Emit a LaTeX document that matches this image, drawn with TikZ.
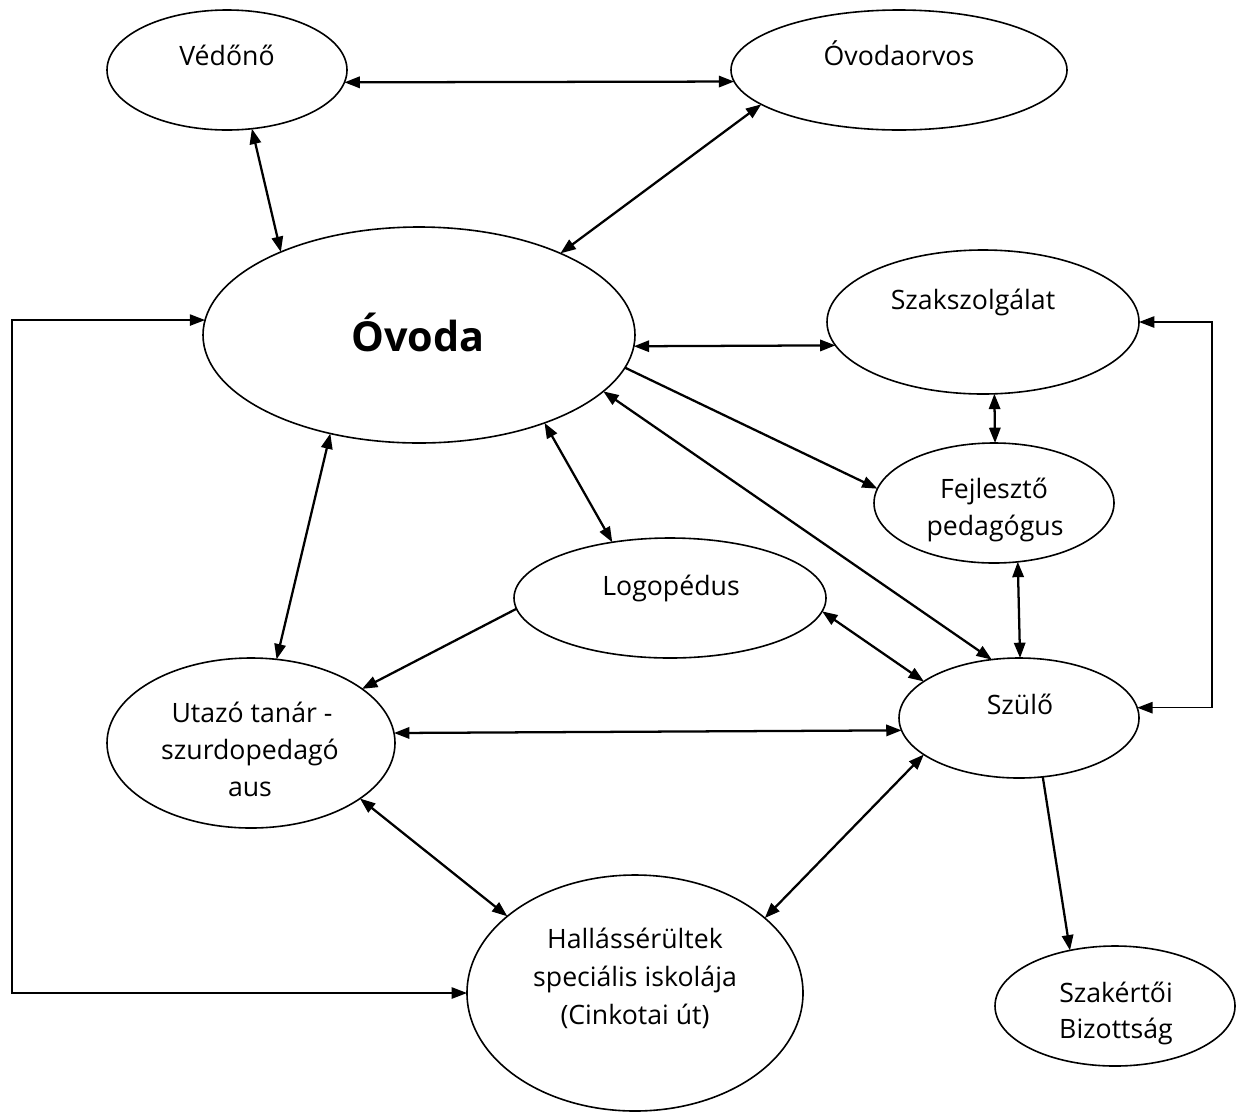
\documentclass[tikz,border=0pt]{standalone}
\usepackage{fontspec}
\setmainfont{Open Sans}
\usetikzlibrary{arrows.meta,shapes.geometric}
\tikzset{
  ell/.style={ellipse, draw, line width=1.2pt, inner sep=0pt, outer sep=0pt, fill=white},
  txt/.style={anchor=base, inner sep=0pt, font=\fontsize{20}{27}\selectfont},
  big/.style={anchor=base, inner sep=0pt, font=\fontsize{31}{36}\selectfont\bfseries},
  one/.style={-{Triangle[length=11.5pt,width=8.5pt]}, line width=1.7pt},
  two/.style={{Triangle[length=11.5pt,width=8.5pt]}-{Triangle[length=11.5pt,width=8.5pt]}, line width=1.7pt},
  loop/.style={{Triangle[length=11.5pt,width=8.5pt]}-{Triangle[length=11.5pt,width=8.5pt]}, line width=1.2pt}
}
\begin{document}
\begin{tikzpicture}[x=0.75pt,y=-0.75pt]
\useasboundingbox[fill=white] (0,0) rectangle (1244,1111);
% ellipses
\node[ell, minimum width=180pt, minimum height=90pt] (V) at (227,70) {};
\node[ell, minimum width=252pt, minimum height=90pt] (O) at (899,70) {};
\node[ell, minimum width=324pt, minimum height=162pt] (K) at (419,335) {};
\node[ell, minimum width=234pt, minimum height=108pt] (S) at (983,322) {};
\node[ell, minimum width=180pt, minimum height=90pt] (F) at (994,503) {};
\node[ell, minimum width=234pt, minimum height=90pt] (L) at (670,598) {};
\node[ell, minimum width=216pt, minimum height=127.5pt] (U) at (251,743) {};
\node[ell, minimum width=180pt, minimum height=90pt] (P) at (1019,718) {};
\node[ell, minimum width=252pt, minimum height=177pt] (H) at (635,993) {};
\node[ell, minimum width=180pt, minimum height=90pt] (B) at (1115,1006) {};
% texts
\node[txt] (tV) at (227,65) {Védőnő};
\node[txt] (tO) at (899,65) {Óvodaorvos};
\node[big] (tK) at (418,351) {Óvoda};
\node[txt] (tS) at (973,309) {Szakszolgálat};
\node[txt] (tF1) at (994,498) {Fejlesztő};
\node[txt] (tF2) at (995,535) {pedagógus};
\node[txt] (tL) at (671,595) {Logopédus};
\node[txt] (tU1) at (252,722) {Utazó tanár -};
\node[txt] (tU2) at (250,759) {szurdopedagó};
\node[txt] (tU3) at (250,796) {aus};
\node[txt] (tP) at (1020,714) {Szülő};
\node[txt] (tH1) at (635,948) {Hallássérültek};
\node[txt] (tH2) at (635,986) {speciális iskolája};
\node[txt] (tH3) at (635,1024) {(Cinkotai út)};
\node[txt] (tB1) at (1116,1002) {Szakértői};
\node[txt] (tB2) at (1116,1038) {Bizottság};
% loop corners
\coordinate (lx) at (12,0);
\coordinate (rx) at (1212,0);
% connectors
\draw[two] (V.-6.1) -- (O.184.4);
\draw[two] (V.-67.3) -- (K.149.4);
\draw[two] (O.194.2) -- (K.30.6);
\draw[loop] (K.176.8) -- (K.176.8 -| lx) -- (H.180 -| lx) -- (H.180);
\draw[two] (K.-3.2) -- (S.189);
\draw[one] (K.-9.5) -- (F.173.9);
\draw[two] (K.-17.6) -- (P.115.5);
\draw[two] (K.-35.7) -- (L.136.8);
\draw[two] (K.228.6) -- (U.73);
\draw[two] (S.-81) -- (F.89);
\draw[loop] (S.0) -- (S.0 -| rx) -- (P.5.2 -| rx) -- (P.5.2);
\draw[two] (F.-68) -- (P.89);
\draw[one] (L.184.8) -- (U.26.6);
\draw[two] (L.-5.1) -- (P.159.6);
\draw[two] (U.4.7) -- (P.186.1);
\draw[two] (U.-27.3) -- (H.149.3);
\draw[two] (P.201.9) -- (H.30.7);
\draw[one] (P.-68.2) -- (B.129.2);
\end{tikzpicture}
\end{document}
